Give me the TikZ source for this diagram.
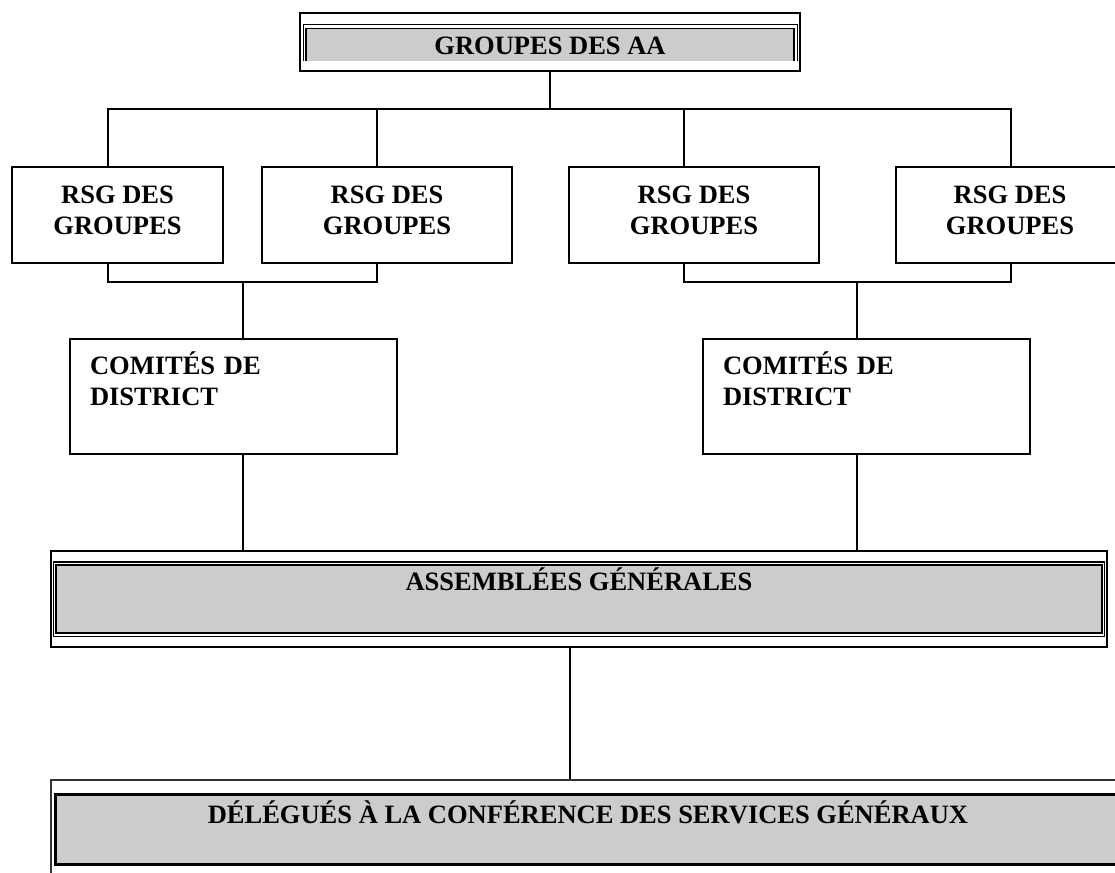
\documentclass[tikz,border=0pt]{standalone}
\usepackage{fontspec}
\setmainfont{Liberation Serif}
\usepackage{tikz}
\usetikzlibrary{calc}
\definecolor{aa-gris}{HTML}{CCCCCC}

\begin{document}
\begin{tikzpicture}[x=1pt, y=-1pt,
    font=\fontsize{26.5}{31}\selectfont\bfseries,
    boite/.style={draw, line width=1.6pt, inner sep=0pt},
    rsg/.style={boite, minimum height=96pt, align=center, text height=67pt, text depth=29pt},
    comite/.style={boite, minimum height=115pt, inner xsep=20pt, text width=287pt, align=left, text height=35pt, text depth=80pt},
    lien/.style={line width=1.3pt}]

    % page
    \useasboundingbox (0,0) rectangle (1115,872);
    \clip (0,0) rectangle (1115,872);
    \fill[white] (0,0) rectangle (1115,872);

    % grey panels
    \fill[aa-gris] (306,28) rectangle (794,61);
    \draw[line width=1pt] (303,61) -- (303,25) -- (797,25) -- (797,61);
    \draw[line width=1.5pt] (306,61) -- (306,28.5) -- (794,28.5) -- (794,61);

    \fill[aa-gris] (57,566) rectangle (1101,632);
    \draw[line width=1.2pt] (53.5,562) rectangle (1104.5,636.5);
    \draw[line width=2pt] (56,565) rectangle (1102,633);

    \fill[aa-gris] (55.5,794) rectangle (1130,864);
    \draw[line width=3.2pt] (55.5,794.25) rectangle (1130,864.25);

    % boxes
    \node[boite, minimum width=500pt, minimum height=58pt, text height=42pt, text depth=16pt] (aa) at (550,42) {GROUPES DES AA};

    \node[rsg, minimum width=211pt] (rsg1) at (117.5,215) {RSG DES\\GROUPES};
    \node[rsg, minimum width=250pt] (rsg2) at (387,215) {RSG DES\\GROUPES};
    \node[rsg, minimum width=250pt] (rsg3) at (694,215) {RSG DES\\GROUPES};
    \node[rsg, minimum width=228pt] (rsg4) at (1010,215) {RSG DES\\GROUPES};

    \node[comite] (com1) at (233.5,396.5) {COMITÉS DE\\DISTRICT};
    \node[comite] (com2) at (866.5,396.5) {COMITÉS DE\\DISTRICT};

    \node[boite, line width=1.9pt, minimum width=1056pt, minimum height=96pt, text height=39pt, text depth=57pt] (asm) at (579,599) {ASSEMBLÉES GÉNÉRALES};

    \node[boite, line width=1.2pt, draw=black!80, minimum width=1074pt, minimum height=100pt, text height=43pt, text depth=57pt] (del) at (588,830) {DÉLÉGUÉS À LA CONFÉRENCE DES SERVICES GÉNÉRAUX};

    % links
    \coordinate (busT) at (550,109);
    \coordinate (busL) at (243,282);
    \coordinate (busR) at (857,282);

    \draw[lien] (aa.south) -- (busT);
    \draw[lien] ([xshift=-9.5pt]rsg1.north) |- (busT);
    \draw[lien] ([xshift=-10pt]rsg2.north) |- (busT);
    \draw[lien] ([xshift=-10pt]rsg3.north) |- (busT);
    \draw[lien] ([xshift=1pt]rsg4.north) |- (busT);

    \draw[lien] ([xshift=-9.5pt]rsg1.south) |- (busL);
    \draw[lien] ([xshift=-10pt]rsg2.south) |- (busL);
    \draw[lien] ([xshift=-10pt]rsg3.south) |- (busR);
    \draw[lien] ([xshift=1pt]rsg4.south) |- (busR);

    \draw[lien] (busL) -- (busL |- com1.north);
    \draw[lien] (busR) -- (busR |- com2.north);
    \draw[lien] (com1.south -| busL) -- (busL |- asm.north);
    \draw[lien] (com2.south -| busR) -- (busR |- asm.north);

    \draw[lien] ([xshift=-9pt]asm.south) -- ([xshift=-18pt]del.north);

\end{tikzpicture}
\end{document}
